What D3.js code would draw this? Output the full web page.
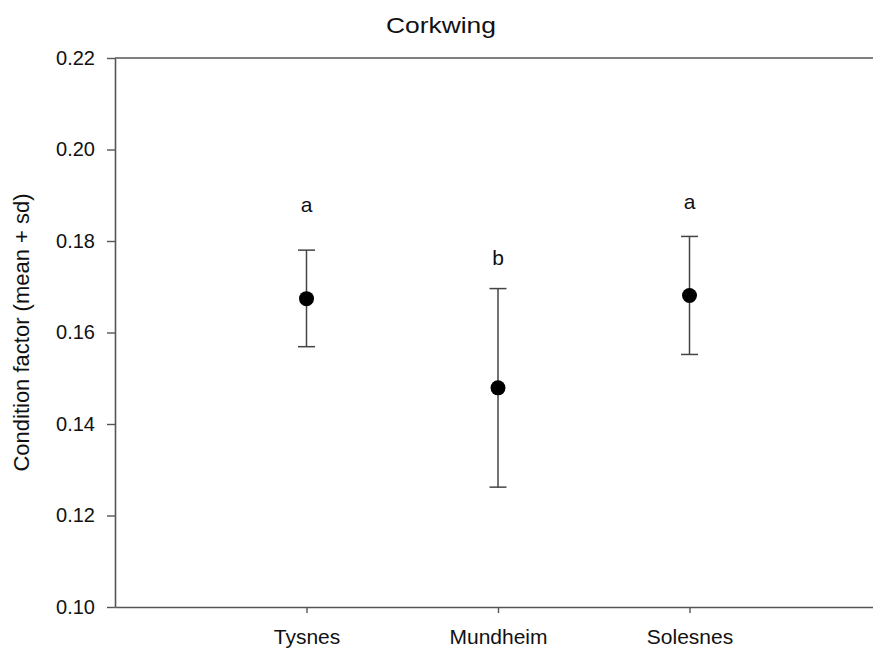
<!DOCTYPE html>
<html>
<head>
<meta charset="utf-8">
<script src="https://cdn.jsdelivr.net/npm/d3@7"></script>
<style>
  body { margin: 0; background: #fff; }
  text { font-family: "Liberation Sans", Arial, sans-serif; fill: #111; }
</style>
</head>
<body>
<svg id="canvas"></svg>
<script>
// data
const sites = ["Tysnes", "Mundheim", "Solesnes"];
const means = [0.1674, 0.1479, 0.1681];
const upper = [0.1780, 0.1696, 0.1810];
const lower = [0.1569, 0.1262, 0.1552];
const letters = ["a", "b", "a"];
const letterPos = [0.1880, 0.1764, 0.1887];
const yTicks = [0.10, 0.12, 0.14, 0.16, 0.18, 0.20, 0.22];

const width = 873, height = 650;
const svg = d3.select("#canvas").attr("width", width).attr("height", height);

const margin = { left: 115, top: 58, bottom: 607 };

const x = d3.scalePoint()
  .domain(sites)
  .range([margin.left, 881])
  .padding(1);

const y = d3.scaleLinear()
  .domain([0.10, 0.22])
  .range([margin.bottom, margin.top]);

//axes
const yAxis = svg.append("g")
  .attr("transform", `translate(${margin.left},0)`)
  .call(d3.axisLeft(y).tickValues(yTicks).tickFormat(d3.format(".2f")).tickSize(8).tickPadding(12).tickSizeOuter(0));

const xAxis = svg.append("g")
  .attr("transform", `translate(0,${margin.bottom})`)
  .call(d3.axisBottom(x).tickSize(6).tickPadding(16).tickSizeOuter(0));

[yAxis, xAxis].forEach(a => {
  a.select(".domain").attr("stroke", "#555").attr("stroke-width", 1.6);
  a.selectAll(".tick line").attr("stroke", "#555").attr("stroke-width", 1.4);
  a.selectAll(".tick text").attr("fill", "#111")
    .style("font-family", "'Liberation Sans', Arial, sans-serif");
});
yAxis.selectAll(".tick text").style("font-size", "20px");
xAxis.selectAll(".tick text").style("font-size", "21px");

// top frame line
svg.append("line")
  .attr("x1", margin.left).attr("x2", 881)
  .attr("y1", y(0.22)).attr("y2", y(0.22))
  .attr("stroke", "#555").attr("stroke-width", 1.6);

// error bars
const g = svg.append("g");
sites.forEach((s, i) => {
  const cx = x(s);
  g.append("line")
    .attr("x1", cx).attr("x2", cx)
    .attr("y1", y(upper[i])).attr("y2", y(lower[i]))
    .attr("stroke", "#444").attr("stroke-width", 1.5);
  [upper[i], lower[i]].forEach(v => {
    g.append("line")
      .attr("x1", cx - 8.5).attr("x2", cx + 8.5)
      .attr("y1", y(v)).attr("y2", y(v))
      .attr("stroke", "#444").attr("stroke-width", 1.5);
  });
  g.append("circle")
    .attr("cx", cx).attr("cy", y(means[i]))
    .attr("r", 7.5).attr("fill", "#000");
  g.append("text")
    .attr("x", cx).attr("y", y(letterPos[i]))
    .attr("text-anchor", "middle").attr("dominant-baseline", "central")
    .style("font-size", "21px")
    .text(letters[i]);
});

// titles
svg.append("text")
  .attr("transform", "translate(441,33) scale(1.2,1)")
  .attr("text-anchor", "middle")
  .style("font-size", "22px")
  .text("Corkwing");

svg.append("text")
  .attr("transform", `translate(29,${(margin.top + margin.bottom) / 2}) rotate(-90)`)
  .attr("text-anchor", "middle")
  .style("font-size", "22px")
  .text("Condition factor (mean + sd)");
</script>
</body>
</html>
